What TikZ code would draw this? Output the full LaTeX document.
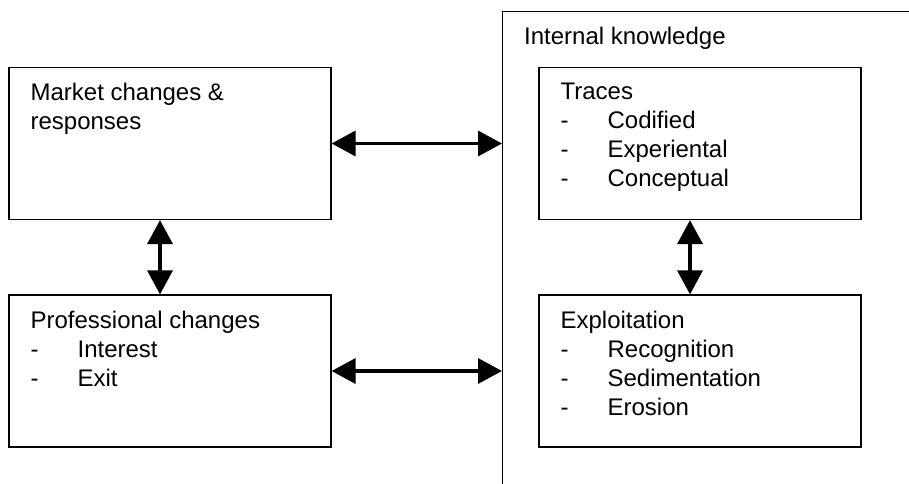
\documentclass[tikz,border=0pt]{standalone}
\usepackage{fontspec}
\setmainfont{Liberation Sans}
\usetikzlibrary{arrows.meta, positioning}
\newcommand{\dashitem}[1]{\makebox[47pt][l]{-}#1}

\begin{document}
\begin{tikzpicture}[
  x=1pt, y=-1pt,
  box/.style={rectangle, draw, line width=1.2pt, inner sep=0pt,
              minimum width=322pt, minimum height=152pt},
  txt/.style={inner sep=0pt, align=left,
              font=\fontsize{24}{29}\selectfont},
  dblarr/.style={{Triangle[length=24pt, width=25pt]}-{Triangle[length=24pt, width=25pt]},
                 line width=3.5pt}
]
\clip (0,0) rectangle (909,483);

% === Internal knowledge (runs off the right and bottom edges) ===
\node[box, minimum width=600pt, minimum height=600pt, anchor=north west]
  (know) at (502,11) {};
\node[txt, below right=16pt and 22pt of know.north west] (knowtxt)
  {Internal knowledge};

% === Left column ===
\node[box] (mkt)  at (170,143.5) {};
\node[box] (prof) at (170,371)   {};

\node[txt, below right=16pt and 22pt of mkt.north west] (mkttxt)
  {Market changes \&\\ responses};
\node[txt, below right=16pt and 22pt of prof.north west] (proftxt)
  {Professional changes\\ \dashitem{Interest}\\ \dashitem{Exit}};

% === Right column (inside internal knowledge) ===
\node[box] (trace) at (700,143.5) {};
\node[box] (expl)  at (700,371)   {};

\node[txt, below right=16pt and 22pt of trace.north west] (tracetxt)
  {Traces\\ \dashitem{Codified}\\ \dashitem{Experiental}\\ \dashitem{Conceptual}};
\node[txt, below right=16pt and 22pt of expl.north west] (expltxt)
  {Exploitation\\ \dashitem{Recognition}\\ \dashitem{Sedimentation}\\ \dashitem{Erosion}};

% === Double arrows ===
\draw[dblarr] (mkt.east)  -- (mkt.east -| know.west);
\draw[dblarr] (prof.east) -- (prof.east -| know.west);
\draw[dblarr] ([xshift=-10pt]mkt.south)   -- ([xshift=-10pt]prof.north);
\draw[dblarr] ([xshift=-10pt]trace.south) -- ([xshift=-10pt]expl.north);

\end{tikzpicture}
\end{document}
